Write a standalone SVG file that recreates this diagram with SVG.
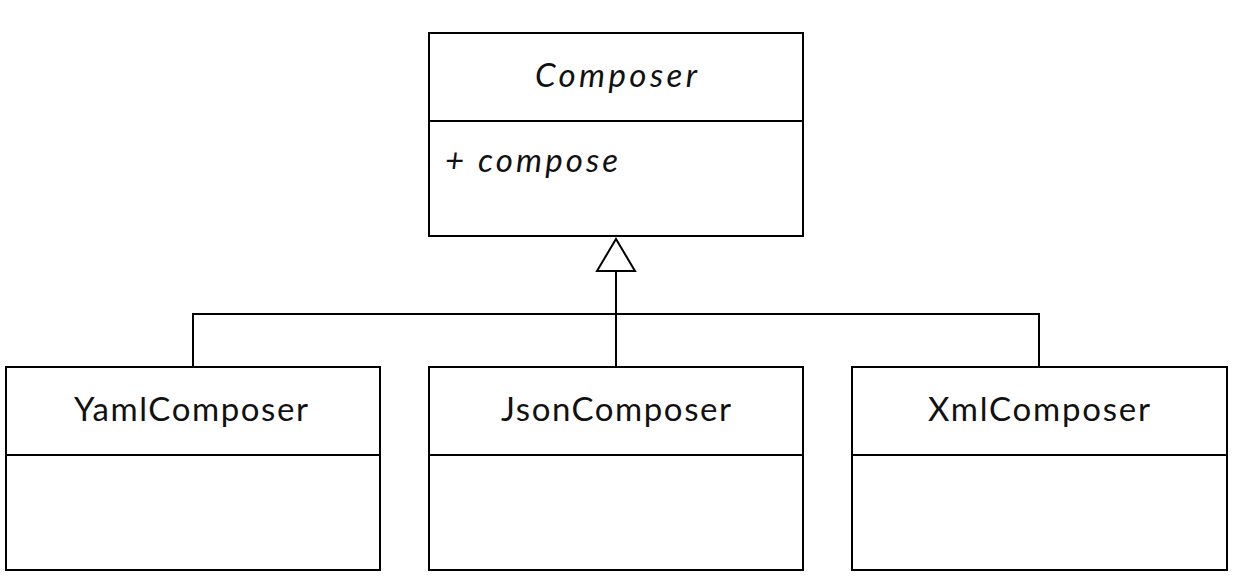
<svg xmlns="http://www.w3.org/2000/svg" width="1241" height="578" viewBox="0 0 1241 578">
<style>
.box{fill:#fff;stroke:#000;stroke-width:2}
.ln{fill:none;stroke:#000;stroke-width:2}
.t{font-family:Lato,"Noto Sans",sans-serif;font-size:33px;fill:#111}
.c{text-anchor:middle}
.i{font-style:italic}
</style>
<rect width="1241" height="578" fill="#fff"/>
<g id="connectors">
<path class="ln" d="M616 367V271M193 367V314H1039V367"/>
<polygon class="ln" points="616,239 635,271 597,271" fill="#fff"/>
</g>
<g id="composer">
<rect class="box" x="429" y="33" width="374" height="203"/>
<line class="ln" x1="429" y1="121" x2="803" y2="121"/>
<text class="t c i" x="616" y="87" textLength="162" lengthAdjust="spacing">Composer</text>
<text class="t i" x="445" y="172" textLength="173" lengthAdjust="spacing">+ compose</text>
</g>
<g id="yaml">
<rect class="box" x="6" y="367" width="374" height="203"/>
<line class="ln" x1="6" y1="455" x2="380" y2="455"/>
<text class="t c" x="191" y="421" textLength="234" lengthAdjust="spacing">YamlComposer</text>
</g>
<g id="json">
<rect class="box" x="429" y="367" width="374" height="203"/>
<line class="ln" x1="429" y1="455" x2="803" y2="455"/>
<text class="t c" x="616" y="421" textLength="230" lengthAdjust="spacing">JsonComposer</text>
</g>
<g id="xml">
<rect class="box" x="852" y="367" width="375" height="203"/>
<line class="ln" x1="852" y1="455" x2="1227" y2="455"/>
<text class="t c" x="1039" y="421" textLength="222" lengthAdjust="spacing">XmlComposer</text>
</g>
</svg>
